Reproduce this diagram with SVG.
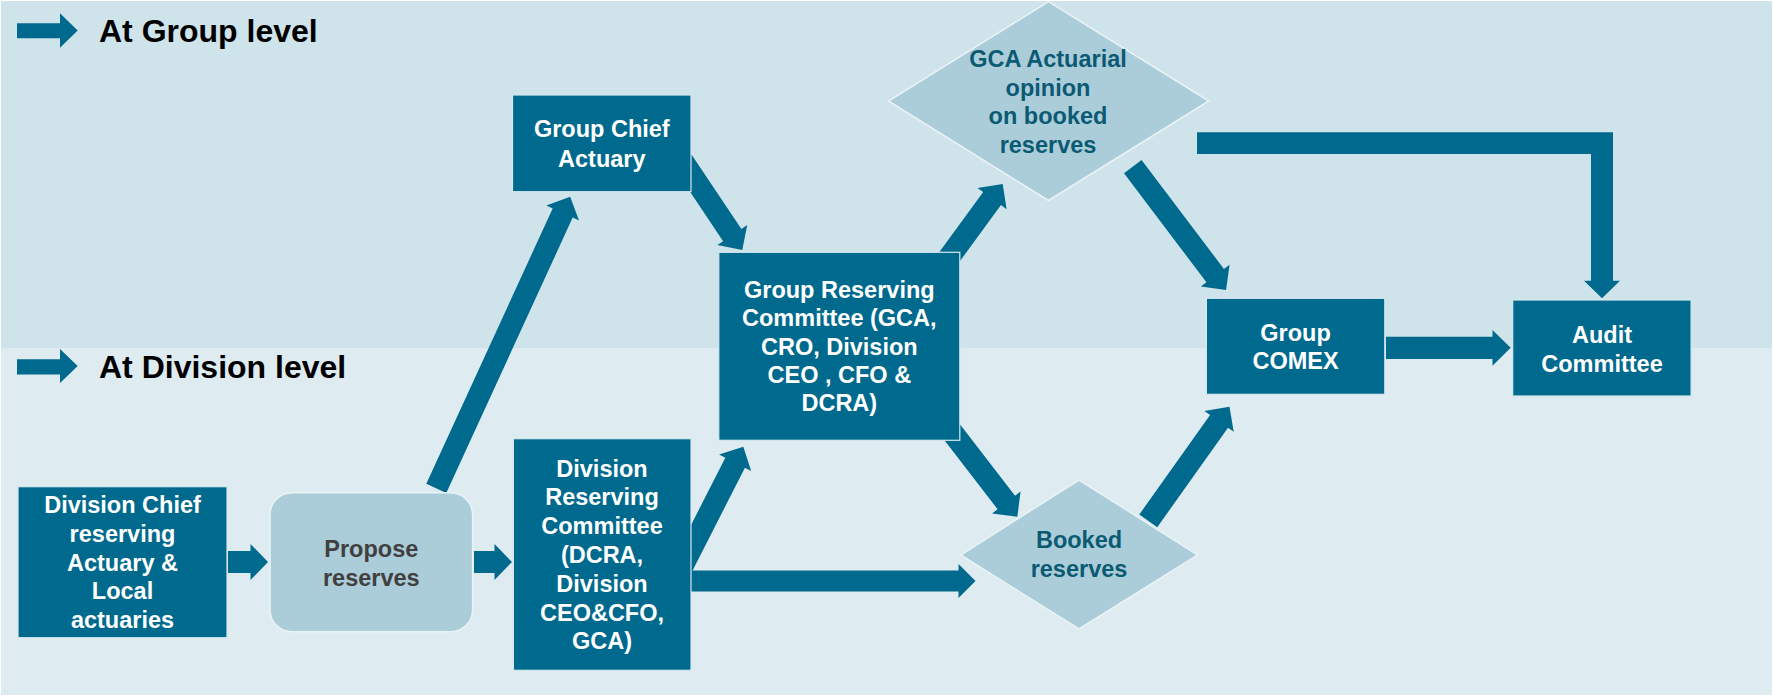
<svg xmlns="http://www.w3.org/2000/svg" width="1773" height="696" viewBox="0 0 1773 696">
<style>
.arr{fill:#006a8e}
.box{fill:#006a8e;stroke:#d6e8ef;stroke-width:1.2}
.dia{fill:#abcdd9;stroke:#eaf3f6;stroke-width:1.5}
.prop{fill:#abcdd9;stroke:#eaf3f6;stroke-width:1.5}
text{font-family:"Liberation Sans",Arial,sans-serif;font-weight:bold;text-anchor:middle}
.wt{fill:#ffffff;font-size:23.5px}
.dt{fill:#0b5a73;font-size:23.5px}
.gt{fill:#404040;font-size:23.5px}
.lg{fill:#000000;font-size:32px;text-anchor:start}
</style>
<rect x="0" y="0" width="1773" height="696" fill="#ffffff"/>
<rect x="1" y="1" width="1771" height="347" fill="#cfe3ea"/>
<rect x="1" y="348" width="1771" height="347" fill="#deebf0"/>

<g id="legend">
<polygon class="arr" points="17,23.3 60,23.3 60,13.3 77.7,30.5 60,47.7 60,38.3 17,38.3"/>
<text class="lg" x="99" y="41.7">At Group level</text>
<polygon class="arr" points="17,359.3 60,359.3 60,349 77.7,366 60,383 60,374.5 17,374.5"/>
<text class="lg" x="99" y="377.7">At Division level</text>
</g>

<g id="connectors">
<polygon class="arr" transform="translate(436.3,488.3) rotate(-65.34)" points="0,-11 302.9,-11 302.9,-18 320.9,0 302.9,18 302.9,11 0,11"/>
<polygon class="arr" transform="translate(680,157) rotate(56.18)" points="0,-11 93.9,-11 93.9,-18 111.9,0 93.9,18 93.9,11 0,11"/>
<polygon class="arr" transform="translate(680,570.9) rotate(-62.99)" points="0,-11 121.4,-11 121.4,-18 139.4,0 121.4,18 121.4,11 0,11"/>
<polygon class="arr" transform="translate(938.4,272) rotate(-53.85)" points="0,-11 91,-11 91,-18 109,0 91,18 91,11 0,11"/>
<polygon class="arr" transform="translate(946.6,425) rotate(52.36)" points="0,-11 97.8,-11 97.8,-18 115.8,0 97.8,18 97.8,11 0,11"/>
<polygon class="arr" transform="translate(1132.8,166.7) rotate(52.9)" points="0,-11 136.6,-11 136.6,-18 154.6,0 136.6,18 136.6,11 0,11"/>
<polygon class="arr" transform="translate(1148.3,520.8) rotate(-54.56)" points="0,-11 122,-11 122,-18 140,0 122,18 122,11 0,11"/>
<polygon class="arr" points="228,551 250.5,551 250.5,544 268,562 250.5,580 250.5,573 228,573"/>
<polygon class="arr" points="474,551 494.5,551 494.5,544 512,562 494.5,580 494.5,573 474,573"/>
<polygon class="arr" points="685,570.5 958.5,570.5 958.5,564 975.5,581 958.5,598 958.5,591.5 685,591.5"/>
<polygon class="arr" points="1386,336.7 1492.5,336.7 1492.5,330 1510.7,347.7 1492.5,365.7 1492.5,358.9 1386,358.9"/>
<polygon class="arr" points="1197,132.3 1613,132.3 1613,280.7 1620,280.7 1602,298.3 1584,280.7 1591,280.7 1591,154 1197,154"/>
</g>

<g id="division-chief">
<rect class="box" x="18" y="486.7" width="209" height="151"/>
<text class="wt" x="122.5" y="513.3">Division Chief</text>
<text class="wt" x="122.5" y="542.3">reserving</text>
<text class="wt" x="122.5" y="570.7">Actuary &amp;</text>
<text class="wt" x="122.5" y="599.3">Local</text>
<text class="wt" x="122.5" y="628.3">actuaries</text>
</g>

<g id="propose-reserves">
<rect class="prop" x="270" y="492.7" width="202.6" height="139" rx="22" ry="22"/>
<text class="gt" x="371.3" y="556.7">Propose</text>
<text class="gt" x="371.3" y="585.7">reserves</text>
</g>

<g id="division-reserving-committee">
<rect class="box" x="513.4" y="438.7" width="177.6" height="231.6"/>
<text class="wt" x="602" y="476.7">Division</text>
<text class="wt" x="602" y="505">Reserving</text>
<text class="wt" x="602" y="534">Committee</text>
<text class="wt" x="602" y="563.3">(DCRA,</text>
<text class="wt" x="602" y="591.7">Division</text>
<text class="wt" x="602" y="620.7">CEO&amp;CFO,</text>
<text class="wt" x="602" y="649.3">GCA)</text>
</g>

<g id="group-chief-actuary">
<rect class="box" x="512.5" y="95" width="178.5" height="96.7"/>
<text class="wt" x="601.8" y="137.3">Group Chief</text>
<text class="wt" x="601.8" y="166.7">Actuary</text>
</g>

<g id="group-reserving-committee">
<rect class="box" x="718.8" y="252.3" width="241" height="188"/>
<text class="wt" x="839.3" y="297.7">Group Reserving</text>
<text class="wt" x="839.3" y="326">Committee (GCA,</text>
<text class="wt" x="839.3" y="355">CRO, Division</text>
<text class="wt" x="839.3" y="383.3">CEO , CFO &amp;</text>
<text class="wt" x="839.3" y="411">DCRA)</text>
</g>

<g id="gca-opinion">
<polygon class="dia" points="1048.5,1.7 1208.8,101 1048.5,200.5 888.4,101"/>
<text class="dt" x="1048" y="66.7">GCA Actuarial</text>
<text class="dt" x="1048" y="95.7">opinion</text>
<text class="dt" x="1048" y="124">on booked</text>
<text class="dt" x="1048" y="152.7">reserves</text>
</g>

<g id="booked-reserves">
<polygon class="dia" points="1079,480 1197.8,555 1079,629 960.7,555"/>
<text class="dt" x="1079" y="548.3">Booked</text>
<text class="dt" x="1079" y="577.3">reserves</text>
</g>

<g id="group-comex">
<rect class="box" x="1206.4" y="298.3" width="178.4" height="96"/>
<text class="wt" x="1295.6" y="340.7">Group</text>
<text class="wt" x="1295.6" y="369.3">COMEX</text>
</g>

<g id="audit-committee">
<rect class="box" x="1512.7" y="300" width="178.4" height="96"/>
<text class="wt" x="1602" y="343.3">Audit</text>
<text class="wt" x="1602" y="371.7">Committee</text>
</g>
</svg>
